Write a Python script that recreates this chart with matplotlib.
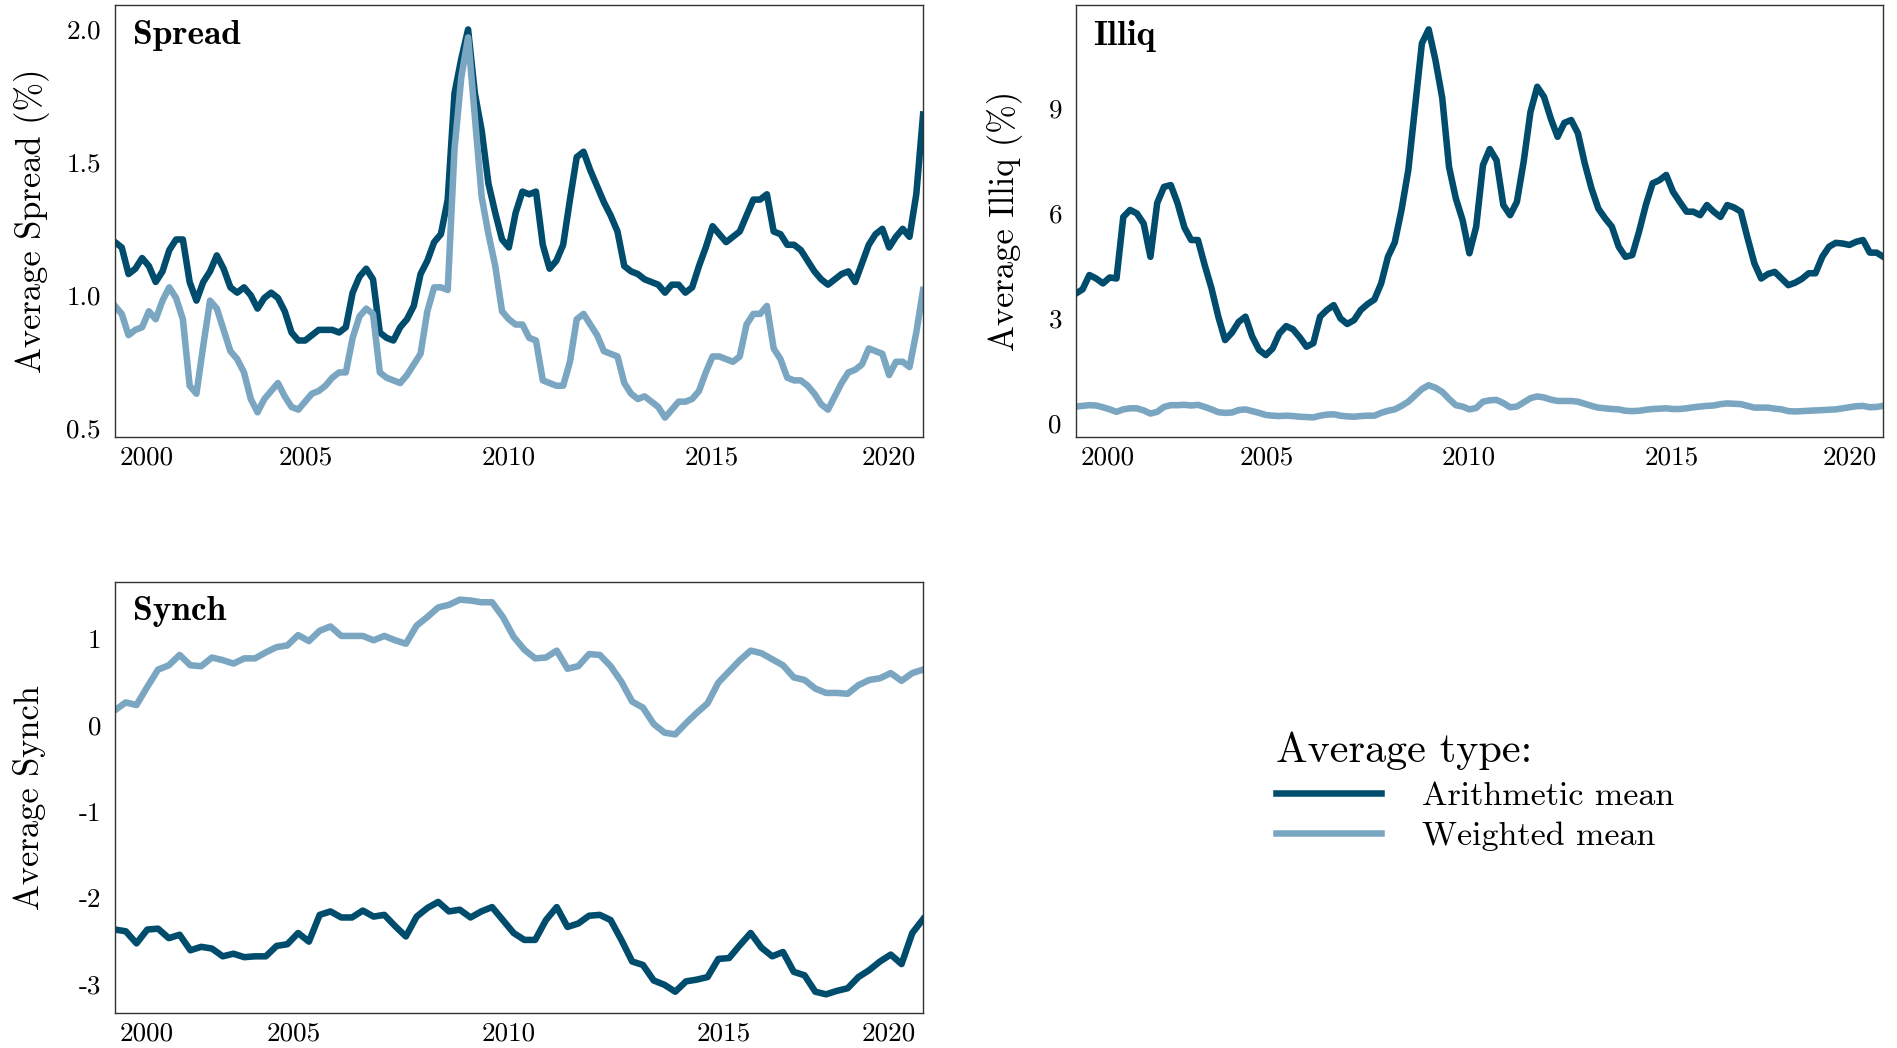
import numpy as np
import matplotlib
matplotlib.use("Agg")
import matplotlib.pyplot as plt

plt.rcParams["font.family"] = ["cmr10"]
plt.rcParams["axes.unicode_minus"] = False
plt.rcParams["mathtext.fontset"] = "cm"

ARITH_COLOR = "#004c6d"
WEIGHT_COLOR = "#7aa6c2"

year_labels = ["2000", "2005", "2010", "2015", "2020"]

# Monthly liquidity measures, one value every second month
spread_arith = [
    1.20, 1.18, 1.08, 1.10, 1.14, 1.11, 1.05, 1.09, 1.17, 1.21,
    1.21, 1.05, 0.98, 1.05, 1.09, 1.15, 1.10, 1.03, 1.01, 1.03,
    1.00, 0.95, 0.99, 1.01, 0.99, 0.94, 0.86, 0.83, 0.83, 0.85,
    0.87, 0.87, 0.87, 0.86, 0.88, 1.01, 1.07, 1.10, 1.06, 0.86,
    0.84, 0.83, 0.88, 0.91, 0.96, 1.08, 1.13, 1.20, 1.23, 1.36,
    1.76, 1.89, 2.00, 1.76, 1.62, 1.42, 1.31, 1.21, 1.18, 1.31,
    1.39, 1.38, 1.39, 1.19, 1.10, 1.13, 1.19, 1.36, 1.52, 1.54,
    1.47, 1.41, 1.35, 1.30, 1.24, 1.11, 1.09, 1.08, 1.06, 1.05,
    1.04, 1.01, 1.04, 1.04, 1.01, 1.03, 1.11, 1.18, 1.26, 1.23,
    1.20, 1.22, 1.24, 1.30, 1.36, 1.36, 1.38, 1.24, 1.23, 1.19,
    1.19, 1.17, 1.13, 1.09, 1.06, 1.04, 1.06, 1.08, 1.09, 1.05,
    1.12, 1.19, 1.23, 1.25, 1.18, 1.22, 1.25, 1.22, 1.38, 1.68,
]
spread_weighted = [
    0.96, 0.93, 0.85, 0.87, 0.88, 0.94, 0.91, 0.98, 1.03, 0.99,
    0.91, 0.66, 0.63, 0.81, 0.98, 0.95, 0.87, 0.79, 0.76, 0.71,
    0.61, 0.56, 0.61, 0.64, 0.67, 0.62, 0.58, 0.57, 0.60, 0.63,
    0.64, 0.66, 0.69, 0.71, 0.71, 0.84, 0.92, 0.95, 0.93, 0.71,
    0.69, 0.68, 0.67, 0.70, 0.74, 0.78, 0.94, 1.03, 1.03, 1.02,
    1.55, 1.82, 1.97, 1.67, 1.37, 1.23, 1.11, 0.94, 0.91, 0.89,
    0.89, 0.84, 0.83, 0.68, 0.67, 0.66, 0.66, 0.75, 0.91, 0.93,
    0.89, 0.85, 0.79, 0.78, 0.77, 0.67, 0.63, 0.61, 0.62, 0.60,
    0.58, 0.54, 0.57, 0.60, 0.60, 0.61, 0.64, 0.71, 0.77, 0.77,
    0.76, 0.75, 0.77, 0.89, 0.93, 0.93, 0.96, 0.80, 0.76, 0.69,
    0.68, 0.68, 0.66, 0.63, 0.59, 0.57, 0.62, 0.67, 0.71, 0.72,
    0.74, 0.80, 0.79, 0.78, 0.70, 0.75, 0.75, 0.73, 0.86, 1.02,
]
illiq_arith = [
    3.71, 3.83, 4.24, 4.14, 4.00, 4.17, 4.14, 5.90, 6.10, 6.00,
    5.71, 4.76, 6.30, 6.76, 6.81, 6.29, 5.60, 5.24, 5.24, 4.52,
    3.86, 3.05, 2.38, 2.59, 2.90, 3.05, 2.48, 2.10, 1.95, 2.14,
    2.57, 2.78, 2.69, 2.46, 2.19, 2.29, 3.05, 3.24, 3.38, 3.00,
    2.84, 2.95, 3.24, 3.41, 3.54, 4.00, 4.76, 5.17, 6.10, 7.24,
    9.05, 10.86, 11.26, 10.38, 9.30, 7.33, 6.43, 5.81, 4.86, 5.62,
    7.38, 7.84, 7.52, 6.24, 5.95, 6.33, 7.48, 8.90, 9.62, 9.33,
    8.71, 8.19, 8.59, 8.67, 8.29, 7.43, 6.71, 6.14, 5.86, 5.62,
    5.05, 4.76, 4.81, 5.48, 6.24, 6.86, 6.95, 7.10, 6.62, 6.33,
    6.05, 6.05, 5.95, 6.24, 6.05, 5.90, 6.24, 6.17, 6.05, 5.29,
    4.57, 4.14, 4.27, 4.33, 4.14, 3.95, 4.02, 4.13, 4.29, 4.29,
    4.76, 5.05, 5.16, 5.14, 5.10, 5.19, 5.24, 4.88, 4.88, 4.76,
]
illiq_weighted = [
    0.48, 0.50, 0.52, 0.51, 0.46, 0.40, 0.33, 0.40, 0.43, 0.43,
    0.37, 0.28, 0.33, 0.47, 0.52, 0.52, 0.53, 0.51, 0.53, 0.47,
    0.40, 0.32, 0.30, 0.31, 0.38, 0.40, 0.35, 0.30, 0.24, 0.22,
    0.21, 0.22, 0.21, 0.19, 0.18, 0.17, 0.22, 0.25, 0.26, 0.22,
    0.20, 0.19, 0.21, 0.22, 0.22, 0.30, 0.36, 0.40, 0.50, 0.62,
    0.80, 0.98, 1.09, 1.02, 0.90, 0.70, 0.52, 0.48, 0.40, 0.44,
    0.62, 0.66, 0.67, 0.58, 0.46, 0.48, 0.60, 0.72, 0.77, 0.74,
    0.68, 0.64, 0.64, 0.64, 0.62, 0.56, 0.50, 0.45, 0.43, 0.41,
    0.40, 0.36, 0.35, 0.36, 0.39, 0.41, 0.42, 0.43, 0.41, 0.41,
    0.43, 0.46, 0.48, 0.50, 0.51, 0.55, 0.57, 0.56, 0.55, 0.50,
    0.45, 0.45, 0.45, 0.42, 0.40, 0.35, 0.34, 0.35, 0.36, 0.37,
    0.38, 0.39, 0.40, 0.43, 0.46, 0.49, 0.50, 0.46, 0.47, 0.50,
]
# observation index at which each labelled year starts
monthly_year_ticks = [9.3, 56.2, 115.9, 175.7, 228.0]

# Quarterly synchronicity
synch_arith = [
    -2.37, -2.39, -2.53, -2.37, -2.36, -2.47, -2.43, -2.61, -2.57, -2.59,
    -2.68, -2.65, -2.69, -2.68, -2.68, -2.56, -2.54, -2.41, -2.51, -2.20,
    -2.16, -2.23, -2.23, -2.15, -2.22, -2.20, -2.33, -2.45, -2.22, -2.12,
    -2.05, -2.16, -2.14, -2.23, -2.16, -2.11, -2.26, -2.41, -2.49, -2.49,
    -2.26, -2.11, -2.34, -2.30, -2.21, -2.20, -2.26, -2.49, -2.74, -2.78,
    -2.96, -3.01, -3.09, -2.97, -2.95, -2.92, -2.71, -2.70, -2.55, -2.41,
    -2.58, -2.68, -2.63, -2.86, -2.90, -3.09, -3.12, -3.08, -3.05, -2.92,
    -2.84, -2.74, -2.66, -2.77, -2.41, -2.25,
]
synch_weighted = [
    0.17, 0.26, 0.23, 0.44, 0.64, 0.69, 0.81, 0.69, 0.68, 0.78,
    0.75, 0.71, 0.77, 0.77, 0.84, 0.90, 0.92, 1.04, 0.97, 1.09,
    1.14, 1.03, 1.03, 1.03, 0.98, 1.03, 0.98, 0.94, 1.15, 1.25,
    1.36, 1.39, 1.45, 1.44, 1.42, 1.42, 1.25, 1.02, 0.87, 0.77,
    0.78, 0.86, 0.65, 0.68, 0.82, 0.81, 0.68, 0.50, 0.27, 0.20,
    0.01, -0.09, -0.11, 0.02, 0.14, 0.25, 0.49, 0.62, 0.75, 0.86,
    0.83, 0.76, 0.69, 0.55, 0.52, 0.42, 0.37, 0.37, 0.36, 0.46,
    0.52, 0.54, 0.60, 0.51, 0.60, 0.64,
]
quarterly_year_ticks = [2.94, 16.56, 36.5, 56.5, 71.8]

months = np.arange(len(spread_arith)) * 2
quarters = np.arange(len(synch_arith))

fig = plt.figure(figsize=(18.97, 10.48), dpi=100)

TICK_FS = 19.5
LABEL_FS = 24.8
TITLE_FS = 25.5
LW = 4.7


def panel(rect, x, arith, weighted, title, ylabel, yticks, yticklabels,
          ylim, xticks, label_x):
    ax = fig.add_axes(rect)
    l1, = ax.plot(x, arith, color=ARITH_COLOR, lw=LW, label="Arithmetic mean")
    l2, = ax.plot(x, weighted, color=WEIGHT_COLOR, lw=LW, label="Weighted mean")
    ax.set_xlim(x[0], x[-1])
    ax.set_ylim(*ylim)
    ax.set_xticks(xticks)
    ax.set_xticklabels(year_labels)
    ax.set_yticks(yticks)
    ax.set_yticklabels(yticklabels)
    ax.tick_params(length=0, labelsize=TICK_FS)
    ax.tick_params(axis="x", pad=6)
    ax.tick_params(axis="y", pad=10)
    for s in ax.spines.values():
        s.set_color("#333333")
        s.set_linewidth(1.0)
    ax.set_ylabel(ylabel, fontsize=LABEL_FS)
    ax.yaxis.set_label_coords(label_x, 0.5)
    ax.text(0.022, 0.966, title, transform=ax.transAxes, family="cmb10",
            fontsize=TITLE_FS, va="top", ha="left")
    return ax, l1, l2


panel([0.0606, 0.583, 0.426, 0.412], months, spread_arith, spread_weighted,
      "Spread", "Average Spread (%)", [0.5, 1.0, 1.5, 2.0],
      ["0.5", "1.0", "1.5", "2.0"], (0.467, 2.091), monthly_year_ticks, -0.080)

panel([0.5671, 0.583, 0.4257, 0.412], months, illiq_arith, illiq_weighted,
      "Illiq", "Average Illiq (%)", [0, 3, 6, 9],
      ["0", "3", "6", "9"], (-0.39, 11.95), monthly_year_ticks, -0.065)

ax3, h1, h2 = panel([0.0606, 0.0331, 0.426, 0.412], quarters, synch_arith,
                    synch_weighted, "Synch", "Average Synch",
                    [-3, -2, -1, 0, 1], ["-3", "-2", "-1", "0", "1"],
                    (-3.34, 1.66), quarterly_year_ticks, -0.085)

fig.legend(handles=[h1, h2], labels=["Arithmetic mean", "Weighted mean"],
           title="Average type:", loc="upper left",
           bbox_to_anchor=(1276 / 1897, 1 - 732 / 1048), frameon=False,
           fontsize=24.5, title_fontsize=30.4, alignment="left",
           handlelength=3.1, handletextpad=1.2, labelspacing=0.3,
           borderpad=0, borderaxespad=0)

fig.savefig("out.png", dpi=100)
